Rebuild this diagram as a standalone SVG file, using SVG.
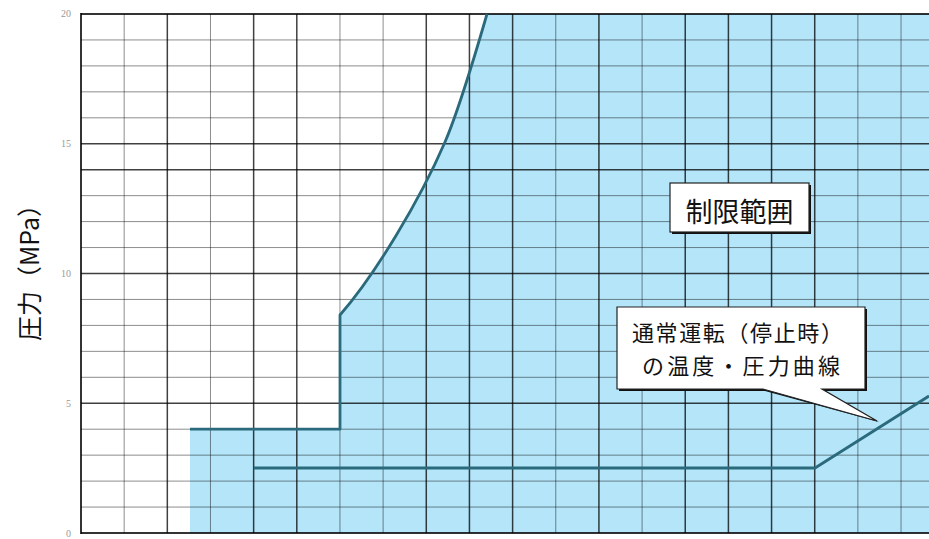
<svg xmlns="http://www.w3.org/2000/svg" width="929" height="539" viewBox="0 0 929 539">
<style>
.maj{stroke:#000;stroke-opacity:0.75;stroke-width:1.5;fill:none}
.min{stroke:#000;stroke-opacity:0.45;stroke-width:1;fill:none}
.edge{stroke:#000;stroke-opacity:0.8;stroke-width:2;fill:none}
.bnd{stroke:#2b6a7c;stroke-width:2.8;fill:none;stroke-linejoin:round}
.tick{font-family:"Liberation Serif",serif;font-size:10px;fill:#999}
.cjk{font-family:"Noto Sans CJK JP",sans-serif;fill:#111}
.box{fill:#fff;stroke:#222;stroke-width:1.2}
.shadow{fill:#111}
</style>
<rect width="929" height="539" fill="#fff"/>
<g id="region">
<path d="M190,533 V429.2 H340 V315 C375,275 420,200 445,142 C457.5,113 478,45 487,14 H929 V533 Z" fill="#b4e5f9"/>
</g>
<g id="grid">
<path class="min" d="M81,507.05H929M81,481.1H929M81,455.15H929M81,429.2H929M81,377.3H929M81,351.35H929M81,325.4H929M81,299.45H929M81,247.55H929M81,221.6H929M81,195.65H929M81,117.8H929M81,91.85H929M81,65.9H929M81,39.95H929"/>
<path class="maj" d="M81,403.25H929M81,273.5H929M81,169.7H929M81,143.75H929"/>
<path class="edge" d="M81,14H929M81,533H929"/>
<path class="min" d="M124.16,14V533M210.48,14V533M339.96,14V533M383.12,14V533M555.76,14V533M642.08,14V533M857.88,14V533M901.04,14V533"/>
<path class="maj" d="M167.32,14V533M253.64,14V533M296.8,14V533M426.28,14V533M469.44,14V533M512.6,14V533M598.92,14V533M685.24,14V533M728.4,14V533M771.56,14V533M814.72,14V533"/>
<path class="edge" d="M81,13V534"/>
</g>
<g id="limit-boundary">
<path class="bnd" d="M190,429.2 H340 V315 C375,275 420,200 445,142 C457.5,113 478,45 487,14"/>
</g>
<g id="operating-curve">
<path class="bnd" d="M254,468 H815 L929,396" stroke-width="3.4"/>
</g>
<g id="axis-labels">
<text class="tick" x="71" y="17" text-anchor="end" font-size="7">20</text>
<text class="tick" x="71" y="147" text-anchor="end">15</text>
<text class="tick" x="71" y="277" text-anchor="end">10</text>
<text class="tick" x="71" y="407" text-anchor="end">5</text>
<text class="tick" x="71" y="537" text-anchor="end">0</text>
<text class="cjk" x="0" y="0" font-size="25" transform="translate(39,341) rotate(-90)">圧力（MPa）</text>
</g>
<g id="callout-limit">
<rect class="shadow" x="672" y="185" width="139" height="49"/>
<rect class="box" x="670" y="183" width="139" height="49"/>
<text class="cjk" x="739.5" y="222" font-size="27" text-anchor="middle">制限範囲</text>
</g>
<g id="callout-operating">
<path class="shadow" d="M619,309 H867 V391 H825 L879,422 L765,391 H619 Z"/>
<path class="box" d="M617,307 H865 V389 H822 L877,421 L763,389 H617 Z"/>
<text class="cjk" x="632" y="341" font-size="22" textLength="211">通常運転（停止時）</text>
<text class="cjk" x="642" y="374" font-size="22" textLength="198">の温度・圧力曲線</text>
</g>
</svg>
